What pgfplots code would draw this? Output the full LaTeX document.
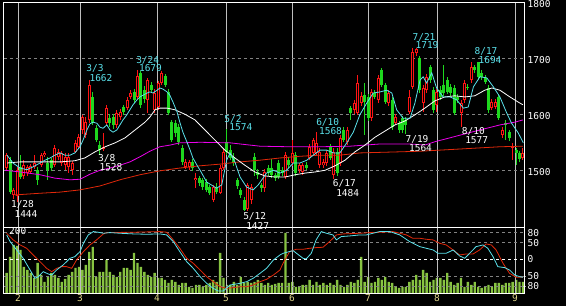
\documentclass[border=0pt]{standalone}
\usepackage{pgfplots}
\pgfplotsset{compat=1.18}
\usepackage{pgfplotstable}
\usepackage{fontspec}
\newfontfamily\chartfont{DejaVu Sans Mono}
\newcommand\cf{\chartfont\fontsize{9.5}{10}\selectfont}
\definecolor{candred}{RGB}{255,20,20}
\definecolor{candgreen}{RGB}{30,215,30}
\definecolor{macyan}{RGB}{90,225,235}
\definecolor{mamag}{RGB}{235,0,235}
\definecolor{mared}{RGB}{225,40,10}
\definecolor{volgreen}{RGB}{135,195,65}
\definecolor{monthgray}{RGB}{190,190,190}
\definecolor{dashgray}{RGB}{130,130,130}
\definecolor{khaki}{RGB}{225,215,140}

\pgfplotstableread{
k O H L C
0 1504 1530 1500 1527
2 1456 1468 1449 1465
3 1454 1506 1444 1500
5 1490 1518 1484 1510
6 1495 1510 1490 1506
7 1497 1512 1494 1508
8 1506 1527 1503 1513
10 1510 1530 1506 1527
11 1527 1535 1524 1531
14 1510 1545 1506 1540
15 1524 1538 1518 1533
16 1513 1535 1508 1531
17 1510 1530 1500 1524
18 1506 1531 1495 1524
19 1500 1517 1492 1513
20 1533 1554 1530 1549
21 1542 1565 1538 1560
22 1572 1599 1565 1595
23 1563 1595 1558 1586
24 1590 1662 1585 1652
28 1538 1567 1535 1541
29 1584 1617 1580 1611
32 1581 1608 1576 1602
33 1595 1610 1590 1604
35 1611 1630 1607 1625
36 1631 1643 1627 1638
38 1630 1679 1625 1668
41 1625 1665 1603 1661
43 1608 1645 1603 1638
44 1613 1660 1608 1656
45 1656 1677 1652 1674
52 1506 1520 1502 1515
53 1506 1519 1500 1515
55 1482 1495 1468 1486
60 1447 1474 1444 1470
62 1460 1510 1457 1504
63 1504 1540 1500 1533
70 1431 1478 1428 1474
71 1447 1476 1440 1470
75 1468 1502 1462 1497
81 1488 1533 1484 1527
83 1513 1554 1508 1531
85 1500 1513 1495 1509
86 1497 1513 1492 1509
88 1522 1547 1518 1541
89 1531 1558 1527 1554
90 1531 1568 1527 1549
91 1509 1540 1504 1533
92 1509 1520 1504 1515
93 1513 1536 1508 1531
95 1491 1540 1484 1533
97 1513 1563 1508 1558
99 1550 1577 1545 1572
101 1607 1625 1600 1620
102 1602 1670 1598 1656
103 1620 1640 1615 1632
106 1593 1645 1588 1640
108 1625 1670 1620 1665
111 1620 1643 1615 1638
113 1584 1600 1580 1595
117 1604 1643 1600 1631
118 1649 1719 1645 1711
119 1709 1719 1704 1716
121 1620 1652 1604 1647
122 1643 1672 1638 1666
125 1616 1645 1604 1640
132 1602 1625 1577 1620
133 1625 1661 1620 1656
135 1661 1694 1656 1684
141 1611 1627 1607 1622
142 1613 1627 1609 1622
144 1563 1577 1558 1572
147 1541 1548 1518 1543
150 1522 1540 1518 1531
}\upc

\pgfplotstableread{
k O H L C
1 1518 1524 1458 1461
4 1506 1527 1484 1488
9 1500 1505 1474 1483
12 1513 1524 1483 1501
13 1518 1522 1498 1504
25 1631 1640 1580 1584
26 1575 1580 1550 1554
27 1545 1552 1528 1537
30 1593 1600 1578 1584
31 1595 1600 1574 1581
34 1613 1617 1598 1604
37 1640 1645 1620 1625
39 1673 1677 1612 1617
40 1643 1650 1620 1627
42 1652 1657 1638 1643
46 1668 1672 1648 1652
47 1640 1645 1598 1602
48 1586 1590 1550 1554
49 1584 1590 1560 1566
50 1577 1582 1545 1550
51 1540 1545 1510 1515
54 1515 1520 1498 1504
56 1486 1490 1472 1477
57 1482 1487 1465 1470
58 1479 1484 1461 1465
59 1470 1474 1455 1459
61 1470 1478 1457 1461
64 1550 1574 1528 1533
65 1536 1545 1518 1522
66 1524 1530 1508 1513
67 1482 1486 1466 1472
68 1465 1469 1450 1456
69 1447 1452 1427 1429
72 1524 1530 1490 1500
73 1497 1503 1485 1491
74 1474 1478 1462 1468
76 1504 1510 1490 1495
77 1504 1520 1487 1491
78 1491 1496 1480 1486
79 1513 1518 1484 1488
80 1500 1506 1490 1495
82 1518 1524 1504 1509
84 1527 1533 1490 1495
87 1509 1515 1500 1504
94 1541 1547 1518 1522
96 1533 1540 1490 1495
98 1572 1577 1550 1554
100 1611 1615 1590 1602
104 1634 1656 1563 1622
105 1631 1636 1588 1593
107 1638 1643 1627 1631
109 1679 1683 1648 1652
110 1652 1656 1618 1622
112 1625 1630 1572 1577
114 1584 1588 1566 1572
115 1593 1597 1566 1572
116 1590 1595 1564 1581
120 1700 1704 1638 1643
123 1684 1688 1656 1661
124 1643 1648 1602 1607
126 1643 1650 1625 1631
127 1652 1688 1633 1638
128 1661 1666 1636 1640
129 1649 1654 1633 1638
130 1647 1652 1598 1602
131 1631 1636 1620 1625
134 1649 1654 1643 1647
136 1684 1688 1674 1679
137 1693 1694 1661 1666
138 1674 1679 1661 1666
139 1665 1670 1654 1658
140 1647 1652 1602 1607
143 1631 1636 1590 1593
145 1584 1590 1554 1581
146 1568 1572 1552 1558
148 1536 1540 1509 1531
149 1530 1535 1515 1520
}\downc

\begin{document}
\begin{tikzpicture}[x=1pt,y=1pt]
\useasboundingbox (0,0) rectangle (566,306);
\fill[black] (0,0) rectangle (566,306);

% ---------------- main price panel ----------------
\begin{axis}[
  at={(4pt,79pt)}, anchor=south west, scale only axis,
  width=520pt, height=224.7pt,
  xmin=-0.78, xmax=150.3, ymin=1398.7, ymax=1800,
  axis line style={white, line width=1pt},
  xtick={3.28,21.3,43.67,63.71,82.88,104.97,125.0,147.7},
  xticklabels={},
  xmajorgrids, x grid style={monthgray, line width=0.8pt},
  ytick={1500,1600,1700,1800},
  ymajorgrids, y grid style={dashgray, line width=0.8pt, dash pattern=on 3pt off 3pt},
  yticklabel pos=right,
  major tick length=0pt,
  yticklabel style={text=white, font=\cf, anchor=west, inner sep=0pt, xshift=3.5pt, yshift=-2pt},
  /pgf/number format/assume math mode=true,
  /pgf/number format/1000 sep={},
]
% green (down) candles
\addplot[draw=none, forget plot, error bars/.cd, y dir=both, y explicit, error mark=none,
  error bar style={draw=candgreen, line width=1pt}]
  table[x=k, y expr={(\thisrow{H}+\thisrow{L})/2}, y error expr={(\thisrow{H}-\thisrow{L})/2}] {\downc};
\addplot[draw=none, forget plot, error bars/.cd, y dir=both, y explicit, error mark=none,
  error bar style={draw=candgreen, line width=3pt}]
  table[x=k, y expr={(\thisrow{O}+\thisrow{C})/2}, y error expr={max(abs(\thisrow{O}-\thisrow{C})/2,0.9)}] {\downc};
% red (up) candles, hollow
\addplot[draw=none, forget plot, error bars/.cd, y dir=both, y explicit, error mark=none,
  error bar style={draw=candred, line width=1pt}]
  table[x=k, y expr={(\thisrow{H}+\thisrow{L})/2}, y error expr={(\thisrow{H}-\thisrow{L})/2}] {\upc};
\addplot[draw=none, forget plot, error bars/.cd, y dir=both, y explicit, error mark=none,
  error bar style={draw=candred, line width=3pt}]
  table[x=k, y expr={(\thisrow{O}+\thisrow{C})/2}, y error expr={max(abs(\thisrow{O}-\thisrow{C})/2,0.9)}] {\upc};
\addplot[draw=none, forget plot, error bars/.cd, y dir=both, y explicit, error mark=none,
  error bar style={draw=black, line width=1pt}]
  table[x=k, y expr={(\thisrow{O}+\thisrow{C})/2}, y error expr={max(abs(\thisrow{C}-\thisrow{O})/2-1.79,0)}] {\upc};

% long moving average (red)
\addplot[mared, line width=0.8pt] coordinates {
(2.4,1456) (9.7,1459) (15.5,1461) (21.3,1465) (27.1,1472) (32.9,1483) (38.7,1492)
(44.5,1499) (50.3,1504) (56.2,1508) (62.0,1511) (67.8,1515) (73.6,1518) (79.4,1522)
(85.2,1525) (91.0,1527) (96.8,1527) (102.6,1531) (114.3,1533) (120.1,1534) (125.9,1536)
(131.7,1538) (137.5,1540) (143.3,1542) (150.0,1543)};
% magenta moving average
\addplot[mamag, line width=0.8pt] coordinates {
(-0.5,1500) (3.9,1497) (9.7,1492) (14.0,1486) (18.4,1483) (21.3,1484) (24.2,1493)
(27.1,1500) (30.0,1504) (32.9,1509) (35.8,1515) (38.7,1524) (41.6,1534) (44.5,1542)
(47.5,1545) (50.3,1549) (56.2,1550) (64.9,1549) (73.6,1543) (82.3,1542) (91.0,1542)
(99.7,1543) (108.5,1547) (117.2,1547) (121.5,1545) (124.4,1551) (128.8,1558)
(133.1,1565) (137.5,1572) (143.3,1581) (147.7,1586) (150.0,1590)};
% white moving average
\addplot[white, line width=0.8pt] coordinates {
(0.1,1513) (3.9,1515) (9.7,1515) (15.5,1515) (19.8,1517) (22.7,1522) (25.7,1533)
(28.6,1542) (31.5,1549) (34.4,1558) (37.3,1572) (40.2,1586) (41.6,1595) (43.1,1608)
(44.5,1611) (46.6,1611) (48.9,1608) (51.8,1600) (54.7,1590) (57.6,1572) (60.5,1554)
(63.4,1536) (66.3,1522) (69.2,1509) (72.1,1497) (75.0,1490) (77.9,1488) (80.9,1488)
(83.8,1492) (86.7,1495) (89.6,1497) (92.5,1500) (95.4,1508) (98.3,1518) (101.2,1533)
(104.1,1545) (107.0,1559) (109.9,1570) (112.8,1581) (115.7,1588) (118.6,1599)
(121.5,1611) (124.4,1624) (127.3,1631) (130.2,1633) (133.1,1631) (136.0,1633)
(138.9,1643) (141.0,1647) (143.3,1643) (146.2,1631) (149.1,1620) (150.0,1617)};
% cyan moving average
\addplot[macyan, line width=0.8pt] coordinates {
(0.1,1527) (1.8,1513) (3.9,1504) (5.9,1501) (7.6,1506) (9.7,1513) (11.1,1518)
(12.6,1522) (14.0,1527) (15.5,1531) (16.9,1527) (18.4,1527) (19.8,1531) (21.3,1542)
(22.2,1554) (23.3,1572) (24.2,1583) (25.1,1586) (26.2,1584) (27.1,1577) (28.0,1575)
(29.1,1581) (30.0,1572) (30.9,1568) (32.0,1572) (32.9,1581) (33.8,1590) (34.9,1599)
(35.8,1608) (36.7,1617) (37.9,1626) (38.7,1631) (39.6,1634) (40.8,1638) (41.6,1640)
(42.5,1638) (43.7,1643) (44.5,1647) (45.4,1645) (46.6,1640) (47.4,1634) (48.3,1622)
(49.5,1604) (50.3,1586) (51.2,1568) (52.4,1550) (53.3,1536) (54.1,1522) (55.3,1509)
(56.2,1500) (58.1,1479) (61.0,1468) (62.5,1474) (63.9,1518) (64.9,1531) (66.3,1515)
(67.8,1488) (69.7,1470) (71.6,1465) (73.1,1474) (75.5,1495) (77.5,1500) (79.4,1495)
(81.3,1500) (83.3,1513) (85.2,1513) (87.2,1518) (89.1,1527) (91.0,1536) (93.0,1536)
(94.9,1531) (96.8,1531) (98.8,1549) (100.7,1568) (102.6,1599) (104.6,1620)
(106.5,1638) (108.5,1640) (110.4,1643) (111.9,1638) (113.3,1608) (115.2,1593)
(117.2,1593) (118.6,1620) (120.1,1661) (121.0,1667) (122.0,1656) (123.5,1674)
(124.9,1647) (126.8,1631) (128.8,1631) (130.7,1626) (132.7,1611) (134.1,1613)
(135.6,1649) (137.5,1667) (139.5,1665) (141.4,1649) (143.3,1631) (145.3,1602)
(146.7,1584) (148.6,1567) (150.1,1549)};
\end{axis}

% ---------------- volume (behind) ----------------
\begin{axis}[
  at={(4pt,13pt)}, anchor=south west, scale only axis,
  width=520pt, height=66pt,
  xmin=-0.78, xmax=150.3, ymin=0, ymax=66,
  hide axis,
]
\addplot[ybar, bar width=2.4pt, fill=volgreen, draw=none] coordinates {
(0,20) (1,36) (2,48) (3,47) (4,43) (5,26) (6,23) (7,20) (8,15) (9,30)
(10,18) (11,11) (12,16) (13,20) (14,18) (15,15) (16,11) (17,14) (18,18) (19,21)
(20,25) (21,26) (22,23) (23,28) (24,41) (25,46) (26,16) (27,21) (28,21) (29,33)
(30,21) (31,18) (32,16) (33,21) (34,25) (35,25) (36,23) (37,40) (38,30) (39,26)
(40,21) (41,18) (42,16) (43,20) (44,15) (45,15) (46,13) (47,10) (48,13) (49,11)
(50,8) (51,10) (52,10) (53,6) (54,5) (55,8) (56,8) (57,6) (58,8) (59,10)
(60,13) (61,11) (62,40) (63,15) (64,8) (65,8) (66,11) (67,8) (68,16) (69,10)
(70,11) (71,10) (72,11) (73,13) (74,10) (75,8) (76,10) (77,8) (78,9) (79,10)
(80,10) (81,60) (82,10) (83,11) (84,6) (85,6) (86,8) (87,8) (88,13) (89,8)
(90,11) (91,8) (92,10) (93,8) (94,10) (95,8) (96,13) (97,8) (98,6) (99,8)
(100,11) (101,10) (102,13) (103,36) (104,11) (105,16) (106,10) (107,11) (108,15) (109,13)
(110,16) (111,11) (112,10) (113,6) (114,5) (115,6) (116,6) (117,11) (118,13) (119,18)
(120,13) (121,23) (122,20) (123,11) (124,13) (125,15) (126,15) (127,13) (128,20) (129,11)
(130,8) (131,10) (132,15) (133,6) (134,11) (135,8) (136,11) (137,6) (138,5) (139,6)
(140,8) (141,6) (142,10) (143,10) (144,8) (145,10) (146,10) (147,11) (148,13) (149,11)
(150,11)};
\end{axis}

% ---------------- oscillator panel ----------------
\begin{axis}[
  at={(4pt,13pt)}, anchor=south west, scale only axis,
  width=520pt, height=66pt,
  xmin=-0.78, xmax=150.3, ymin=-100.9, ymax=96.7,
  axis line style={white, line width=1pt},
  xtick={3.28,21.3,43.67,63.71,82.88,104.97,125.0,147.7},
  xticklabels={2,3,4,5,6,7,8,9},
  xmajorgrids, x grid style={monthgray, line width=0.8pt},
  ytick={-80,-50,0,50,80},
  yticklabels={{\llap{-}80},{\llap{-}50},0,50,80},
  ymajorgrids, y grid style={dashgray, line width=0.8pt, dash pattern=on 3pt off 3pt},
  yticklabel pos=right,
  major tick length=0pt,
  yticklabel style={text=white, font=\cf, anchor=west, inner sep=0pt, xshift=3.5pt},
  xticklabel style={text=khaki, font=\cf, anchor=north, inner sep=0pt, yshift=-1.5pt},
]
\addplot[white, line width=0.8pt, dash pattern=on 3pt off 3pt] coordinates {(-0.78,0) (150.3,0)};
\addplot[mared, line width=0.8pt] coordinates {
(0.0,78) (1.9,58) (3.9,43) (5.8,33) (7.7,13) (9.7,-7) (11.6,-27) (13.1,-37) (14.5,-27)
(16.0,-22) (17.4,-22) (18.9,-27) (20.3,-2) (22.3,23) (24.2,43) (26.1,58) (28.1,76)
(29.1,80) (36.8,81) (44.5,83) (46.5,81) (48.4,58) (50.3,33) (52.3,3) (54.2,-12)
(56.2,-32) (58.1,-52) (60.0,-67) (62.0,-82) (63.9,-87) (65.8,-85) (67.8,-82) (69.7,-82)
(71.6,-77) (73.6,-67) (75.5,-60) (77.5,-47) (79.4,-32) (80.3,-12) (82.2,23) (84.1,30)
(86.1,30) (88.0,33) (89.9,35) (91.9,36) (93.8,53) (95.8,73) (97.7,76) (102.6,78)
(105.5,80) (109.3,81) (112.2,83) (114.2,78) (116.1,73) (118.0,63) (120.0,63) (121.9,60)
(123.9,58) (125.8,48) (127.7,43) (129.7,28) (131.6,13) (133.5,16) (135.5,16) (137.4,28)
(139.3,46) (140.8,43) (142.2,28) (144.2,-12) (146.1,-42) (148.1,-54) (150.0,-54)};
\addplot[macyan, line width=0.8pt] coordinates {
(0.0,73) (1.0,53) (2.9,28) (4.8,3) (6.8,-32) (8.2,-57) (9.2,-52) (10.6,-37) (12.1,-44)
(13.1,-47) (14.5,-32) (16.4,-17) (18.4,3) (19.8,8) (21.3,23) (22.3,48) (23.7,73)
(25.2,83) (26.6,81) (28.1,78) (30.0,80) (32.9,78) (36.8,76) (40.7,75) (44.5,76)
(46.5,73) (48.4,53) (50.3,23) (52.3,-7) (54.2,-27) (56.2,-52) (58.1,-72) (60.0,-87)
(61.5,-95) (62.9,-95) (64.9,-77) (67.8,-72) (69.7,-67) (71.6,-57) (73.6,-42) (75.5,-27)
(77.5,-2) (79.4,13) (80.3,18) (83.2,26) (86.1,3) (87.0,1) (88.5,18) (89.9,58) (91.4,83)
(92.9,78) (94.8,73) (95.8,58) (97.2,68) (99.7,70) (102.6,73) (104.5,73) (106.4,78)
(108.4,83) (111.3,83) (114.2,73) (117.1,53) (120.0,38) (121.9,33) (123.9,28) (125.3,18)
(127.7,18) (129.7,28) (131.6,10) (133.1,3) (134.5,18) (136.4,38) (138.4,43) (139.8,33)
(141.3,8) (142.7,-22) (144.7,-25) (146.1,-32) (147.6,-47) (149.0,-52) (150.0,-54)};
\end{axis}

% ---------------- annotations ----------------
\begin{scope}[every node/.style={font=\cf, inner sep=0pt, anchor=center}]
\node[text=white]  at (22.5,102) {1/28};
\node[text=white]  at (26,92) {1444};
\node[text=macyan] at (95,237.5) {3/3};
\node[text=macyan] at (101,228) {1662};
\node[text=white]  at (106.7,148) {3/8};
\node[text=white]  at (111,139) {1528};
\node[text=macyan] at (147.7,246) {3/24};
\node[text=macyan] at (150.5,238) {1679};
\node[text=macyan] at (233,187) {5/2};
\node[text=macyan] at (240.8,178.5) {1574};
\node[text=white]  at (254.7,90) {5/12};
\node[text=white]  at (257.7,80.5) {1427};
\node[text=macyan] at (327.7,184) {6/10};
\node[text=macyan] at (330.5,175) {1568};
\node[text=white]  at (344.3,122.3) {6/17};
\node[text=white]  at (347.7,113) {1484};
\node[text=white]  at (417,167) {7/19};
\node[text=white]  at (420.5,158) {1564};
\node[text=macyan] at (424,269) {7/21};
\node[text=macyan] at (427,260.5) {1719};
\node[text=white]  at (473.3,175) {8/10};
\node[text=white]  at (476.7,166) {1577};
\node[text=macyan] at (486,255) {8/17};
\node[text=macyan] at (490,246.3) {1694};
\node[text=white]  at (17.7,75) {200};
\end{scope}
\end{tikzpicture}
\end{document}
